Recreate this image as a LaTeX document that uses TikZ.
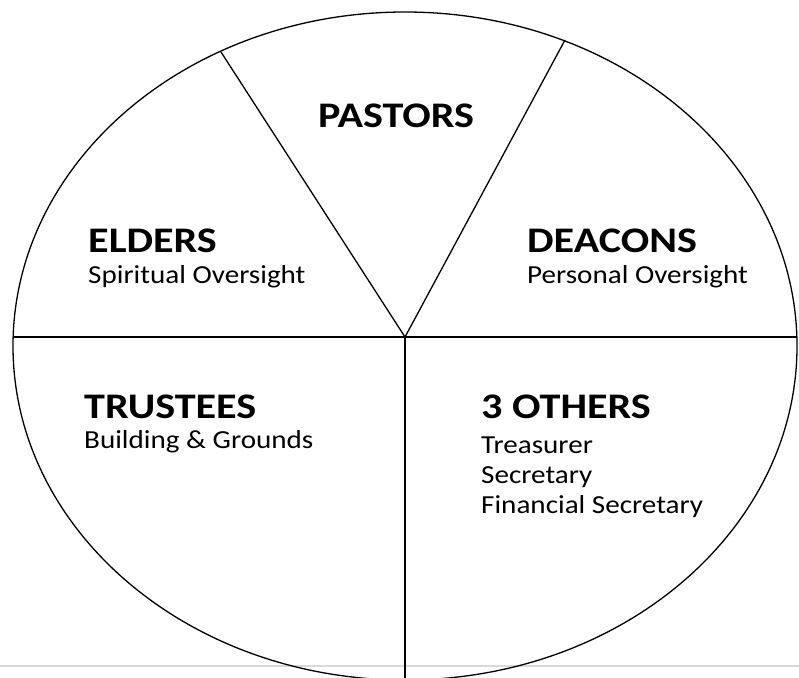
\documentclass[tikz,border=0pt]{standalone}
\usepackage{fontspec}
\usepackage{graphicx}
\setmainfont{Carlito}
% the original text is a little stretched sideways
\newcommand{\widehead}[1]{\scalebox{1.17}[1]{#1}}
\newcommand{\widesub}[1]{\scalebox{1.12}[1]{#1}}
\tikzset{
  heading/.style={anchor=base west, inner sep=0pt, font=\bfseries\fontsize{36}{42}\selectfont},
  subline/.style={anchor=base west, inner sep=0pt, font=\fontsize{26}{30}\selectfont},
  divider/.style={line width=1.3pt}
}
\begin{document}
\begin{tikzpicture}[x=1pt, y=-1pt]

    % Page frame, in pixels of the original
    \useasboundingbox (0,0) rectangle (799,677);
    \clip (0,0) rectangle (799,677);

    % Faint page rule near the bottom
    \draw[line width=1.5pt, color={rgb,255:red,217;green,217;blue,217}] (0,666) -- (799,666);

    % The outer ellipse
    \draw[divider] (405,346) ellipse [x radius=392, y radius=334];

    % Points where the dividers meet the ellipse
    \coordinate (O) at (405,337);
    \coordinate (TL) at (221,52);
    \coordinate (TR) at (565,40);
    \coordinate (L) at (13,337);
    \coordinate (R) at (797,337);
    \coordinate (B) at (405,680);

    % The dividers
    \draw[divider] (TL) -- (O) -- (TR);
    \draw[divider] (L) -- (R);
    \draw[divider] (O) -- (B);

    % Top slice
    \node[heading, anchor=base] (pastors) at (396,127) {\widehead{PASTORS}};

    % Upper left and right slices
    \node[heading] (elders) at (88,252) {\widehead{ELDERS}};
    \node[subline] (eldersSub) at (88,283) {\widesub{Spiritual Oversight}};
    \node[heading] (deacons) at (527,252) {\widehead{DEACONS}};
    \node[subline] (deaconsSub) at (527,283) {\widesub{Personal Oversight}};

    % Lower left and right slices
    \node[heading] (trustees) at (84,418) {\widehead{TRUSTEES}};
    \node[subline] (trusteesSub) at (84,448) {\widesub{Building \& Grounds}};
    \node[heading] (others) at (481,418) {\widehead{3 OTHERS}};
    \node[subline] (treasurer) at (481,453) {\widesub{Treasurer}};
    \node[subline] (secretary) at (481,483) {\widesub{Secretary}};
    \node[subline] (financial) at (481,513) {\widesub{Financial Secretary}};

\end{tikzpicture}
\end{document}
